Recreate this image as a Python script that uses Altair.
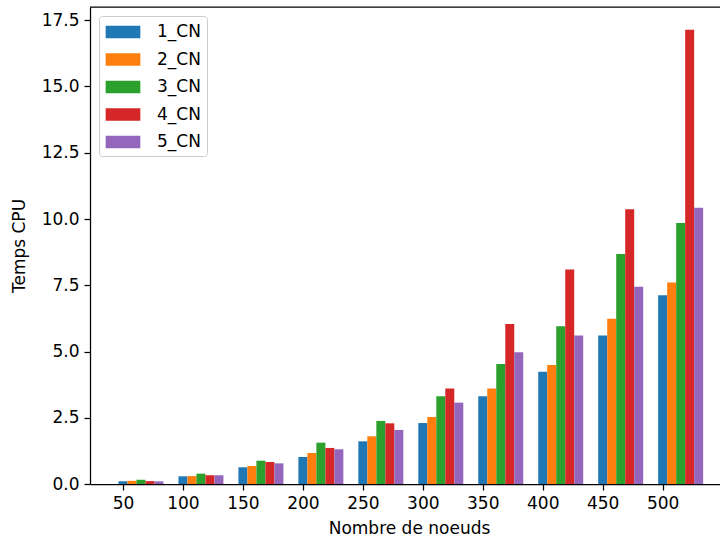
import altair as alt
import pandas as pd

nodes = [50, 100, 150, 200, 250, 300, 350, 400, 450, 500]
series = ["1_CN", "2_CN", "3_CN", "4_CN", "5_CN"]
cn1 = [0.10, 0.29, 0.63, 1.02, 1.61, 2.30, 3.31, 4.24, 5.60, 7.12]
cn2 = [0.12, 0.30, 0.68, 1.17, 1.80, 2.53, 3.60, 4.49, 6.24, 7.60]
cn3 = [0.16, 0.39, 0.88, 1.56, 2.38, 3.31, 4.53, 5.95, 8.68, 9.85]
cn4 = [0.11, 0.33, 0.83, 1.36, 2.29, 3.60, 6.04, 8.09, 10.37, 17.14]
cn5 = [0.10, 0.33, 0.78, 1.31, 2.04, 3.07, 4.97, 5.60, 7.44, 10.42]
colors = ["#1f77b4", "#ff7f0e", "#2ca02c", "#d62728", "#9467bd"]
y_ticks = [0, 2.5, 5, 7.5, 10, 12.5, 15, 17.5]

BAR_W = 7.5  # 0.15 of the 50-node group spacing

rows = []
for i, (name, vals) in enumerate(zip(series, [cn1, cn2, cn3, cn4, cn5])):
    for n, v in zip(nodes, vals):
        rows.append({"nodes": n, "serie": name, "idx": i, "temps": v})
df = pd.DataFrame(rows)

FONT = "DejaVu Sans"
W, H = 630, 477

bars = (
    alt.Chart(df)
    .transform_calculate(
        x0=f"datum.nodes + {BAR_W} * datum.idx - {BAR_W / 2}",
        x1=f"datum.nodes + {BAR_W} * datum.idx + {BAR_W / 2}",
    )
    .mark_bar(strokeWidth=0)
    .encode(
        x=alt.X(
            "x0:Q",
            scale=alt.Scale(domain=[22.5, 547.8], nice=False, zero=False),
            axis=alt.Axis(values=nodes, format="d", title="Nombre de noeuds", titleX=319),
        ),
        x2="x1:Q",
        y=alt.Y(
            "temps:Q",
            scale=alt.Scale(domain=[0, 18.0], nice=False),
            axis=alt.Axis(values=y_ticks, format=".1f", title="Temps CPU"),
        ),
        y2=alt.datum(0),
        color=alt.Color(
            "serie:N",
            scale=alt.Scale(domain=series, range=colors),
            legend=alt.Legend(
                title=None,
                orient="none",
                legendX=9,
                legendY=9,
                symbolType="M-1.735,-0.635H1.735V0.635H-1.735Z",
                symbolSize=400,
                symbolStrokeWidth=0,
                symbolOpacity=1,
                symbolOffset=8,
                labelOffset=24,
                rowPadding=9.5,
                padding=6,
                fillColor="white",
                strokeColor="#cccccc",
                cornerRadius=3,
                labelFont=FONT,
                labelFontSize=17,
                labelColor="black",
            ),
        ),
    )
)

top_border = (
    alt.Chart(pd.DataFrame({"a": [0]}))
    .mark_rule(color="black", strokeWidth=1.25)
    .encode(x=alt.value(0), x2=alt.value(W), y=alt.value(0))
)

chart = (
    alt.layer(bars, top_border)
    .properties(
        width=W,
        height=H,
        autosize=alt.AutoSizeParams(type="none"),
        padding={"left": 90, "top": 7, "right": 0, "bottom": 56},
    )
    .configure_view(stroke=None)
    .configure_axis(
        grid=False,
        domainColor="black",
        domainWidth=1.25,
        tickColor="black",
        tickWidth=1.25,
        tickSize=6,
        labelFont=FONT,
        labelFontSize=17,
        labelColor="black",
        labelPadding=5,
        titleFont=FONT,
        titleFontSize=17,
        titleFontWeight="normal",
        titleColor="black",
    )
    .configure_axisX(titlePadding=9, labelFlush=False)
    .configure_axisY(titlePadding=13)
)

chart.save("out.html", embed_options={"renderer": "svg", "actions": False})
